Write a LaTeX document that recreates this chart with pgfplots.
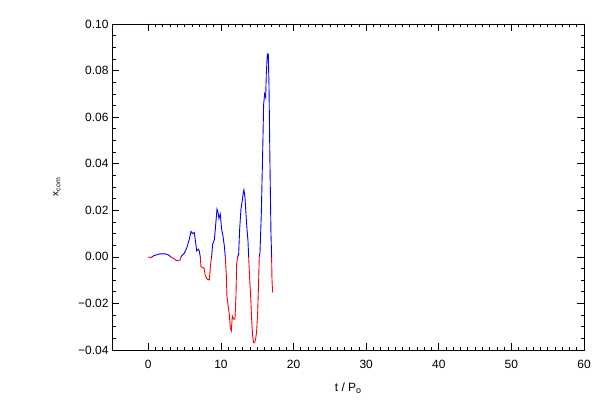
\documentclass[border=0pt]{standalone}
\usepackage{fontspec}
\setmainfont{Liberation Sans}
\usepackage{pgfplots}
\usepackage{pgfplotstable}
\pgfplotsset{compat=1.18}
\usetikzlibrary{calc}
\pgfplotstableread{
t y
0.00 0.0000
0.32 -0.0004
0.50 0.0000
0.69 0.0004
1.15 0.0009
1.61 0.0013
2.30 0.0013
2.75 0.0009
3.08 0.0000
3.44 -0.0006
3.90 -0.0016
4.36 -0.0014
4.50 0.0000
4.59 0.0004
4.96 0.0016
5.28 0.0037
5.65 0.0076
5.88 0.0109
6.10 0.0100
6.33 0.0105
6.52 0.0062
6.66 0.0026
6.89 0.0033
7.02 0.0026
7.16 0.0000
7.25 -0.0042
7.48 -0.0047
7.67 -0.0047
7.85 -0.0082
8.12 -0.0096
8.40 -0.0099
8.58 -0.0032
8.72 0.0000
8.86 0.0054
9.09 0.0073
9.23 0.0119
9.36 0.0169
9.46 0.0205
9.59 0.0194
9.73 0.0165
9.91 0.0184
10.10 0.0119
10.28 0.0090
10.47 0.0047
10.60 0.0000
10.74 -0.0075
10.83 -0.0168
10.97 -0.0204
11.15 -0.0247
11.29 -0.0304
11.43 -0.0318
11.57 -0.0254
11.80 -0.0268
11.93 -0.0268
12.07 -0.0168
12.16 -0.0032
12.30 0.0000
12.44 0.0011
12.58 0.0119
12.76 0.0205
12.94 0.0241
13.08 0.0277
13.17 0.0288
13.31 0.0255
13.45 0.0184
13.59 0.0119
13.72 0.0072
13.82 0.0000
13.95 -0.0089
14.09 -0.0168
14.23 -0.0268
14.37 -0.0340
14.50 -0.0368
14.64 -0.0368
14.78 -0.0354
14.92 -0.0318
15.06 -0.0239
15.19 -0.0110
15.28 0.0000
15.38 0.0019
15.56 0.0184
15.74 0.0434
15.88 0.0654
16.02 0.0700
16.16 0.0685
16.25 0.0786
16.39 0.0872
16.52 0.0872
16.62 0.0735
16.75 0.0406
16.89 0.0105
16.98 0.0000
17.03 -0.0096
17.12 -0.0153
}\datatable
\begin{document}
\begin{tikzpicture}
\begin{axis}[
  scale only axis,
  width=472bp, height=326bp,
  xmin=-5, xmax=60, ymin=-0.04, ymax=0.10,
  axis line style={line width=0.8bp},
  every tick/.style={black, line width=0.7bp},
  tick align=inside,
  major tick length=7bp,
  minor tick length=3.5bp,
  xtick={0,10,20,30,40,50,60},
  xticklabels={0,10,20,30,40,50,60},
  minor x tick num=9,
  ytick={-0.04,-0.02,0,0.02,0.04,0.06,0.08,0.10},
  yticklabels={−0.04,−0.02,0.00,0.02,0.04,0.06,0.08,0.10},
  minor y tick num=3,
  tick label style={font=\fontsize{12}{14}\selectfont},
  xticklabel style={yshift=-7bp},
  xlabel={t / P\raisebox{-0.35ex}{\fontsize{9}{10}\selectfont o}},
  xlabel style={font=\fontsize{12}{14}\selectfont, yshift=-7bp},
  ylabel={x\raisebox{-0.35ex}{\fontsize{7}{8}\selectfont com}},
  ylabel style={font=\fontsize{10}{12}\selectfont, yshift=11bp},
  clip=true,
]
\addplot[red, line width=0.9bp, restrict y to domain=-1:0, unbounded coords=jump] table[x=t,y=y] {\datatable};
\addplot[blue, line width=0.9bp, restrict y to domain=0:1, unbounded coords=jump] table[x=t,y=y] {\datatable};
\end{axis}
\path ($(current axis.south west)+(-112bp,-50bp)$) rectangle ($(current axis.north east)+(16bp,24bp)$);
\end{tikzpicture}
\end{document}
